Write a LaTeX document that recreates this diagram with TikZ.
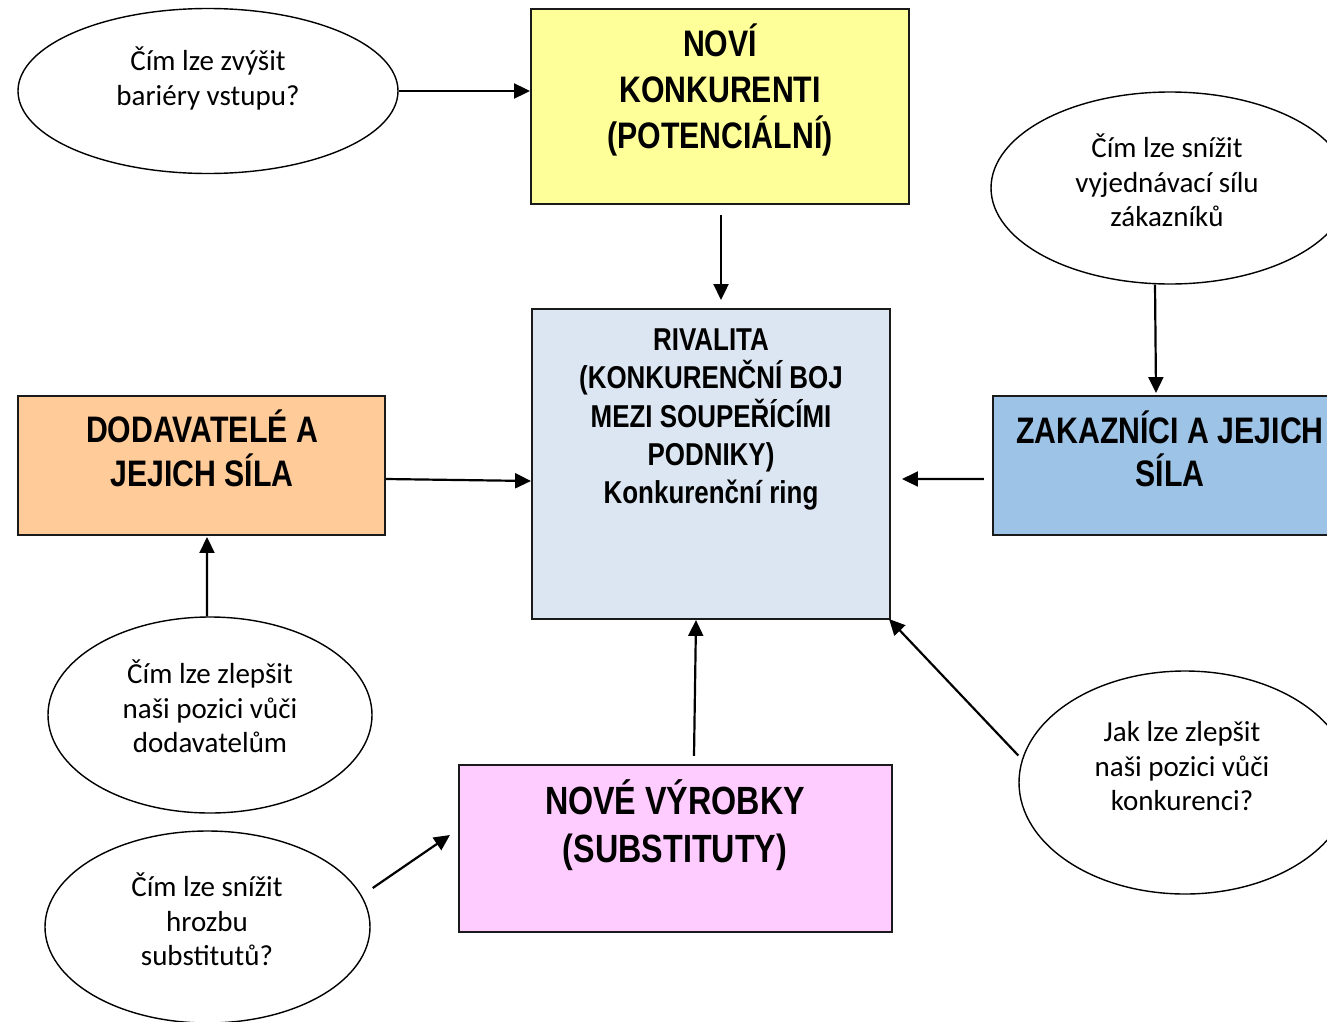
\documentclass[tikz,border=0pt]{standalone}
\usepackage{fontspec}
\usetikzlibrary{arrows.meta,calc,shapes.geometric}
\setmainfont{Carlito}
\newfontfamily\boxfont{Liberation Sans}[FakeStretch=0.82]
\newcommand{\firstline}{\rule{0pt}{1em}}
\definecolor{fyellow}{HTML}{FFFF99}
\definecolor{fblue}{HTML}{DCE6F2}
\definecolor{fsky}{HTML}{9DC3E6}
\definecolor{forange}{HTML}{FFCC99}
\definecolor{fpink}{HTML}{FFCCFF}
\definecolor{edge}{HTML}{1A1A1A}
\tikzset{
  forcebox/.style={draw=edge, line width=1.2pt, rectangle, inner sep=0pt},
  question/.style={draw=black, line width=0.8pt, ellipse, inner sep=0pt, fill=white},
  boxtext/.style={anchor=north, align=center, inner sep=0pt, text=black},
  qtext/.style={anchor=north, align=center, inner sep=0pt, text=black,
    font=\fontsize{16.5}{19.8}\selectfont},
  arr/.style={line width=1.25pt, -{Triangle[length=9pt,width=8.5pt]}},
}
\begin{document}
\begin{tikzpicture}[x=0.02cm, y=-0.02cm]
\useasboundingbox (0,0) rectangle (1327,1021);
\clip (0,0) rectangle (1327,1021);
\fill[white] (0,0) rectangle (1327,1021);

% force boxes
\node[forcebox, fill=fyellow, minimum width={378*0.02cm}, minimum height={195*0.02cm}] (nk) at (720,106.5) {};
\node[forcebox, fill=fblue, minimum width={358*0.02cm}, minimum height={310*0.02cm}] (riv) at (711,464) {};
\node[forcebox, fill=fsky, minimum width={357*0.02cm}, minimum height={139*0.02cm}] (zk) at (1171.5,465.5) {};
\node[forcebox, fill=forange, minimum width={367*0.02cm}, minimum height={139*0.02cm}] (dd) at (201.5,465.5) {};
\node[forcebox, fill=fpink, minimum width={433*0.02cm}, minimum height={167*0.02cm}] (nv) at (675.5,848.5) {};

% box captions
\node[boxtext, font=\boxfont\bfseries\fontsize{21}{26}\selectfont] (nkt) at (720,19.5)
  {\firstline NOVÍ\\KONKURENTI\\(POTENCIÁLNÍ)};
\node[boxtext, font=\boxfont\bfseries\fontsize{18}{21.8}\selectfont] (rivt) at (711,318.6)
  {\firstline RIVALITA\\(KONKURENČNÍ BOJ\\MEZI SOUPEŘÍCÍMI\\PODNIKY)\\Konkurenční ring};
\node[boxtext, font=\boxfont\bfseries\fontsize{21}{24.4}\selectfont] (zkt) at (1170,406.3)
  {\firstline ZAKAZNÍCI A JEJICH\\SÍLA};
\node[boxtext, font=\boxfont\bfseries\fontsize{21}{25}\selectfont] (ddt) at (202,405.5)
  {\firstline DODAVATELÉ A\\JEJICH SÍLA};
\node[boxtext, font=\boxfont\bfseries\fontsize{22.4}{27.2}\selectfont] (nvt) at (675,774.6)
  {\firstline NOVÉ VÝROBKY\\(SUBSTITUTY)};

% question ellipses
\node[question, minimum width={380*0.02cm}, minimum height={165*0.02cm}] (e1) at (208,91) {};
\node[question, minimum width={358*0.02cm}, minimum height={192*0.02cm}] (e2) at (1170,188) {};
\node[question, minimum width={324*0.02cm}, minimum height={196*0.02cm}] (e3) at (210,715) {};
\node[question, minimum width={325*0.02cm}, minimum height={192*0.02cm}] (e4) at (207.5,927) {};
\node[question, minimum width={332*0.02cm}, minimum height={223*0.02cm}] (e5) at (1185,782.5) {};

\node[qtext] (e1t) at (208,41) {\firstline Čím lze zvýšit\\bariéry vstupu?};
\node[qtext] (e2t) at (1167,128) {\firstline Čím lze snížit\\vyjednávací sílu\\zákazníků};
\node[qtext] (e3t) at (210,654) {\firstline Čím lze zlepšit\\naši pozici vůči\\dodavatelům};
\node[qtext] (e4t) at (207,867) {\firstline Čím lze snížit\\hrozbu\\substitutů?};
\node[qtext] (e5t) at (1182,712) {\firstline Jak lze zlepšit\\naši pozici vůči\\konkurenci?};

% connectors
\draw[arr] (e1.east) -- (e1.east -| nk.west);
\draw[arr] ($(nk.south)+(1,10)$) -- ($(riv.north)+(10,-8)$);
\draw[arr] ($(e2.south)+(-15,0)$) -- ($(zk.north)+(-15.5,-2)$);
\draw[arr] ($(zk.west)+(-8,13.5)$) -- ($(riv.east)+(11,15)$);
\draw[arr] ($(dd.east)+(0,13.5)$) -- ($(riv.west)+(0,17)$);
\draw[arr] ($(e3.north)+(-3,0)$) -- ($(dd.south)+(5.5,1)$);
\draw[arr] ($(nv.north)+(18.5,-8)$) -- ($(riv.south)+(-15,0)$);
\draw[arr] ($(e5.west)+(0,-27)$) -- ($(riv.south east)+(-2,-1)$);
\draw[arr] ($(e4.east)+(2,-39)$) -- ($(nv.west)+(-8,-13.5)$);
\end{tikzpicture}
\end{document}
